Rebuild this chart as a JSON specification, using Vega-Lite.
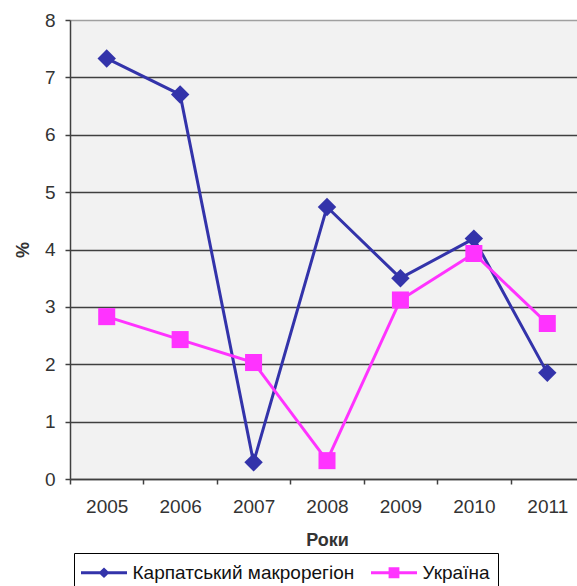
{
  "$schema": "https://vega.github.io/schema/vega-lite/v6.json",
  "width": 507,
  "height": 459,
  "autosize": {"type": "none"},
  "padding": {"left": 70, "top": 20, "right": 0, "bottom": 107},
  "background": "white",
  "config": {
    "font": "Liberation Sans",
    "view": {"fill": "#f2f2f2", "stroke": null},
    "axis": {
      "labelFont": "Liberation Sans",
      "labelFontSize": 19,
      "labelColor": "#333333",
      "titleFont": "Liberation Sans",
      "titleFontSize": 18,
      "titleFontWeight": "bold",
      "titleColor": "#333333",
      "domainColor": "#404040",
      "domainWidth": 1.5,
      "tickColor": "#404040",
      "tickWidth": 1.5,
      "tickSize": 5
    }
  },
  "data": {
    "values": [
      {"year": "2005", "series": "Карпатський макрорегіон", "value": 7.33},
      {"year": "2006", "series": "Карпатський макрорегіон", "value": 6.70},
      {"year": "2007", "series": "Карпатський макрорегіон", "value": 0.29},
      {"year": "2008", "series": "Карпатський макрорегіон", "value": 4.74},
      {"year": "2009", "series": "Карпатський макрорегіон", "value": 3.50},
      {"year": "2010", "series": "Карпатський макрорегіон", "value": 4.19},
      {"year": "2011", "series": "Карпатський макрорегіон", "value": 1.85},
      {"year": "2005", "series": "Україна", "value": 2.83},
      {"year": "2006", "series": "Україна", "value": 2.43},
      {"year": "2007", "series": "Україна", "value": 2.03},
      {"year": "2008", "series": "Україна", "value": 0.32},
      {"year": "2009", "series": "Україна", "value": 3.12},
      {"year": "2010", "series": "Україна", "value": 3.93},
      {"year": "2011", "series": "Україна", "value": 2.71}
    ]
  },
  "encoding": {
    "x": {
      "field": "year",
      "type": "ordinal",
      "bandPosition": 0.5,
      "title": "Роки",
      "scale": {"type": "band", "paddingInner": 0, "paddingOuter": 0, "range": [0, 514]},
      "axis": {"labelAngle": 0, "tickBand": "extent", "labelPadding": 13, "titlePadding": 15, "grid": false}
    },
    "y": {
      "field": "value",
      "type": "quantitative",
      "title": "%",
      "scale": {"domain": [0, 8], "nice": false},
      "axis": {
        "values": [0, 1, 2, 3, 4, 5, 6, 7, 8],
        "labelPadding": 10,
        "titlePadding": 12,
        "grid": true,
        "gridColor": {"condition": {"test": "datum.value == 8", "value": "#a0a0a0"}, "value": "#404040"},
        "gridWidth": 1.5,
        "titleAngle": -90
      }
    }
  },
  "layer": [
    {
      "transform": [{"filter": "false"}],
      "mark": {"type": "point", "filled": true, "opacity": 1},
      "encoding": {
        "color": {
          "field": "series",
          "type": "nominal",
          "scale": {"domain": ["Карпатський макрорегіон", "Україна"], "range": ["#3333aa", "#ff33ff"]},
          "legend": {
            "title": null,
            "orient": "none",
            "legendX": 4,
            "legendY": 533,
            "direction": "horizontal",
            "strokeColor": "#000000",
            "fillColor": "white",
            "padding": 8,
            "symbolSize": 529,
            "symbolOffset": 10.5,
            "symbolStrokeWidth": 0,
            "symbolOpacity": 1,
            "labelFont": "Liberation Sans",
            "labelFontSize": 19,
            "labelColor": "#111111",
            "labelOffset": 17,
            "labelLimit": 500,
            "columnPadding": 16
          }
        },
        "shape": {
          "field": "series",
          "type": "nominal",
          "scale": {
            "domain": ["Карпатський макрорегіон", "Україна"],
            "range": [
              "M-2,-0.13L2,-0.13L2,0.13L-2,0.13Z M0,-0.46L0.48,0L0,0.46L-0.48,0Z",
              "M-2,-0.13L2,-0.13L2,0.13L-2,0.13Z M-0.47,-0.47L0.47,-0.47L0.47,0.47L-0.47,0.47Z"
            ]
          },
          "legend": {
            "title": null,
            "orient": "none",
            "legendX": 4,
            "legendY": 533,
            "direction": "horizontal"
          }
        }
      }
    },
    {
      "mark": {"type": "line", "strokeWidth": 3},
      "encoding": {
        "color": {"field": "series", "type": "nominal", "legend": null}
      }
    },
    {
      "transform": [{"filter": "datum.series == 'Карпатський макрорегіон'"}],
      "mark": {"type": "point", "shape": "diamond", "filled": true, "opacity": 1, "size": 340},
      "encoding": {
        "color": {"field": "series", "type": "nominal", "legend": null}
      }
    },
    {
      "transform": [{"filter": "datum.series == 'Україна'"}],
      "mark": {"type": "point", "shape": "square", "filled": true, "opacity": 1, "size": 290},
      "encoding": {
        "color": {"field": "series", "type": "nominal", "legend": null}
      }
    }
  ]
}
